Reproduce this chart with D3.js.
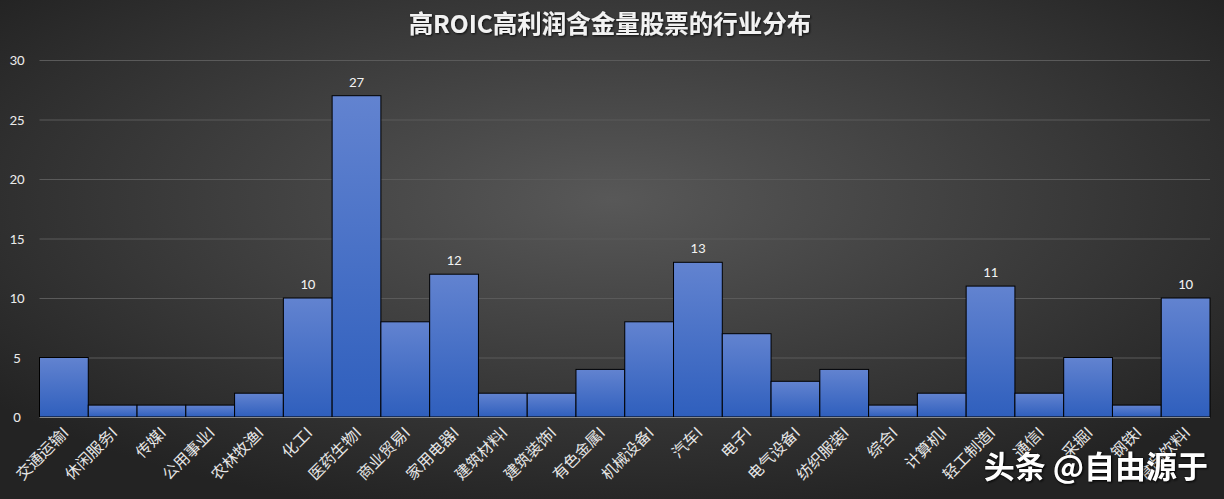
<!DOCTYPE html>
<html><head><meta charset="utf-8">
<script src="https://cdn.jsdelivr.net/npm/d3@7"></script>
<style>html,body{margin:0;padding:0;background:#2a2a2a;}svg{display:block;}</style>
</head><body>
<svg id="c" width="1224" height="499"></svg>
<script>
const categories = ["交通运输I","休闲服务I","传媒I","公用事业I","农林牧渔I","化工I","医药生物I","商业贸易I","家用电器I","建筑材料I","建筑装饰I","有色金属I","机械设备I","汽车I","电子I","电气设备I","纺织服装I","综合I","计算机I","轻工制造I","通信I","采掘I","钢铁I","食品饮料I"];
const values = [5,1,1,1,2,10,27,8,12,2,2,4,8,13,7,3,4,1,2,11,2,5,1,10];
const yTicks = [0,5,10,15,20,25,30];
const labeledMin = 10;
const title = "高ROIC高利润含金量股票的行业分布";

const svg = d3.select("#c");
const W = 1224, H = 499;
const defs = svg.append("defs");
const bg = defs.append("radialGradient").attr("id","bg").attr("cx","50%").attr("cy","40%").attr("r","65%");
bg.append("stop").attr("offset","0%").attr("stop-color","#585858");
bg.append("stop").attr("offset","100%").attr("stop-color","#232323");
const bar = defs.append("linearGradient").attr("id","bar").attr("x1",0).attr("y1",0).attr("x2",0).attr("y2",1);
bar.append("stop").attr("offset","0%").attr("stop-color","#6283d0");
bar.append("stop").attr("offset","100%").attr("stop-color","#2f5fbd");
const sh = defs.append("filter").attr("id","sh").attr("x","-10%").attr("y","-10%").attr("width","130%").attr("height","140%");
sh.append("feDropShadow").attr("dx",1).attr("dy",1).attr("stdDeviation",0.8).attr("flood-color","#000").attr("flood-opacity",0.8);

svg.append("rect").attr("width",W).attr("height",H).attr("fill","url(#bg)");

const x = d3.scaleBand().domain(categories).range([39.5,1210]).padding(0);
const y = d3.scaleLinear().domain([0,30]).range([417,60]);

svg.append("g").selectAll("line").data(yTicks.slice(1)).join("line")
  .attr("x1",39.5).attr("x2",1210).attr("y1",d=>y(d)+0.5).attr("y2",d=>y(d)+0.5)
  .attr("stroke","#5a5a5a").attr("stroke-width",1);

svg.append("g").selectAll("text").data(yTicks).join("text")
  .attr("x",17).attr("y",d=>y(d)).attr("dy","0.35em").attr("text-anchor","middle")
  .attr("fill","#eaeaea").attr("font-family","Calibri, Carlito, 'Open Sans', sans-serif").attr("font-size",15)
  .text(d=>d);

svg.append("g").selectAll("rect").data(values).join("rect")
  .attr("x",(d,i)=>x(categories[i])).attr("width",x.bandwidth())
  .attr("y",d=>y(d)).attr("height",d=>y(0)-y(d))
  .attr("fill","url(#bar)").attr("stroke","#000").attr("stroke-width",1);

svg.append("line").attr("x1",39.5).attr("x2",1210).attr("y1",417.5).attr("y2",417.5).attr("stroke","#8a8a8a").attr("stroke-width",1);

svg.append("g").selectAll("text").data(values.map((v,i)=>({v,i})).filter(d=>d.v>=labeledMin)).join("text")
  .attr("x",d=>x(categories[d.i])+x.bandwidth()/2).attr("y",d=>y(d.v)-9)
  .attr("text-anchor","middle").attr("fill","#f2f2f2")
  .attr("font-family","Calibri, Carlito, 'Open Sans', sans-serif").attr("font-size",15)
  .text(d=>d.v);

svg.append("g").selectAll("text").data(categories).join("text")
  .attr("transform",d=>`translate(${x(d)+x.bandwidth()/2+2},${430}) rotate(-45)`)
  .attr("text-anchor","end").attr("dy","0.35em")
  .attr("fill","#e6e6e6").attr("font-family","'Noto Sans CJK SC', sans-serif").attr("font-size",15.5)
  .text(d=>d);

svg.append("text").attr("x",610).attr("y",33).attr("text-anchor","middle")
  .attr("fill","#f2f2f2").attr("font-family","'Noto Sans CJK SC', sans-serif").attr("font-weight","bold").attr("font-size",24.5)
  .attr("filter","url(#sh)").text(title);

svg.append("text").attr("x",1208).attr("y",478).attr("text-anchor","end")
  .attr("fill","#ffffff").attr("font-family","'Noto Sans CJK SC', sans-serif").attr("font-weight","bold").attr("font-size",31)
  .attr("stroke","#000").attr("stroke-width",0.6).attr("paint-order","stroke").attr("filter","url(#sh)")
  .text("头条 @自由源于");
</script>
</body></html>
